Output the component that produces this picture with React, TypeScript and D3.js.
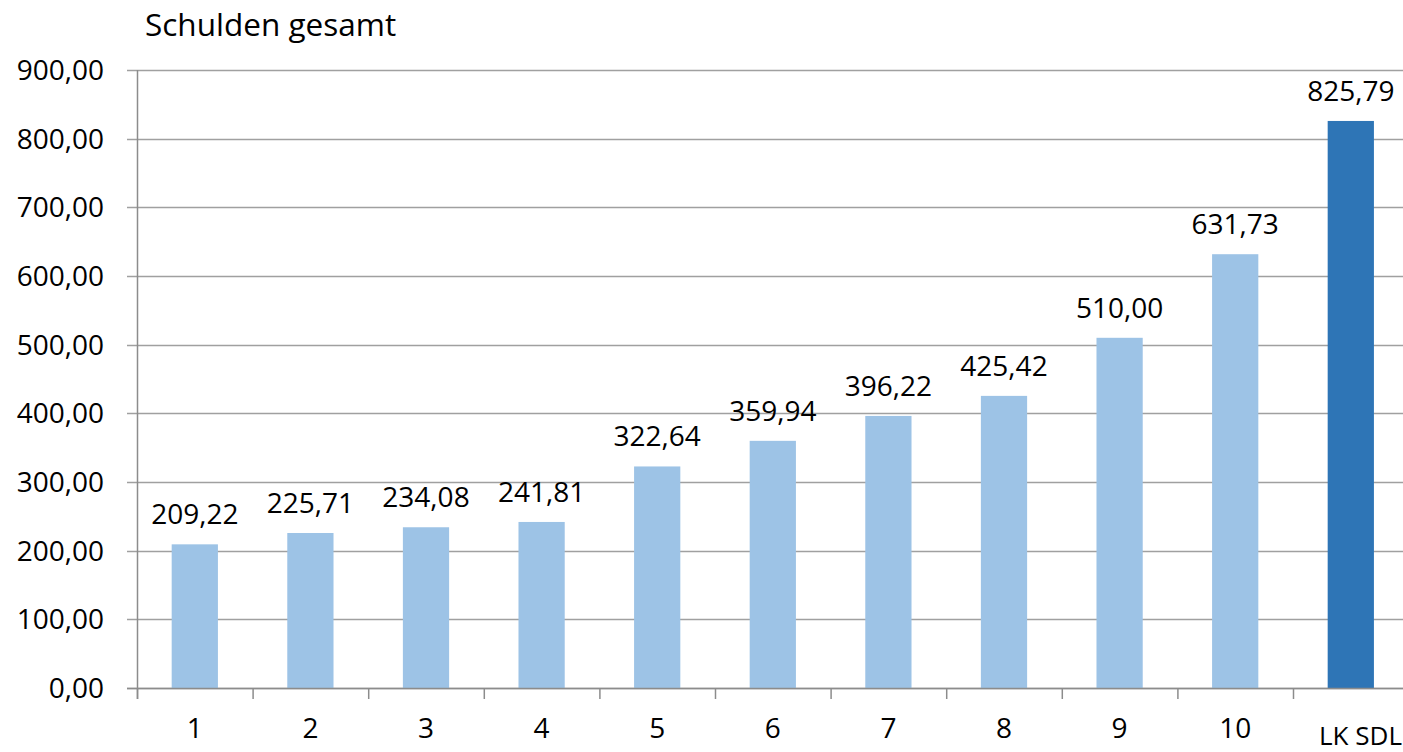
import React, { useEffect, useRef } from "react";
import * as d3 from "d3";

const categories = ["1", "2", "3", "4", "5", "6", "7", "8", "9", "10", "LK SDL"];
const debtTotal = [209.22, 225.71, 234.08, 241.81, 322.64, 359.94, 396.22, 425.42, 510.0, 631.73, 825.79];
const yTicks = [0, 100, 200, 300, 400, 500, 600, 700, 800, 900];
const chartTitle = "Schulden gesamt";

const W = 1403;
const H = 752;
const FONT = "'Open Sans', 'Noto Sans', sans-serif";

function App() {
  const ref = useRef<SVGSVGElement>(null);

  useEffect(() => {
    const svg = d3.select(ref.current);
    svg.selectAll("*").remove();

    const left = 137;
    const band = 115.6;
    const fmt = (v: number) => d3.format(".2f")(v).replace(".", ",");

    const x = d3
      .scaleBand()
      .domain(categories)
      .range([left, left + band * categories.length])
      .paddingInner(0.6)
      .paddingOuter(0.3);
    const y = d3.scaleLinear().domain([0, 900]).range([688, 70]);

    svg
      .append("text")
      .attr("x", 145)
      .attr("y", 36)
      .attr("font-family", FONT)
      .attr("font-size", 31.5)
      .attr("fill", "#000")
      .text(chartTitle);

    // gridlines + y ticks
    const gy = svg.append("g");
    gy.selectAll("line")
      .data(yTicks)
      .join("line")
      .attr("x1", 127)
      .attr("x2", W)
      .attr("y1", d => Math.round(y(d)) + 0.5)
      .attr("y2", d => Math.round(y(d)) + 0.5)
      .attr("stroke", "#a0a0a0")
      .attr("stroke-width", 1.5);
    gy.selectAll("text")
      .data(yTicks)
      .join("text")
      .attr("x", 104)
      .attr("y", d => y(d) + 10)
      .attr("text-anchor", "end")
      .attr("font-family", FONT)
      .attr("font-size", 28)
      .attr("fill", "#000")
      .text(d => fmt(d));

    // bars
    svg
      .append("g")
      .selectAll("rect")
      .data(debtTotal)
      .join("rect")
      .attr("x", (d, i) => x(categories[i])!)
      .attr("width", x.bandwidth())
      .attr("y", d => y(d))
      .attr("height", d => y(0) - y(d))
      .attr("fill", (d, i) => (i === categories.length - 1 ? "#2E75B6" : "#9DC3E6"));

    // data labels
    svg
      .append("g")
      .selectAll("text")
      .data(debtTotal)
      .join("text")
      .attr("x", (d, i) => x(categories[i])! + x.bandwidth() / 2)
      .attr("y", d => y(d) - 20)
      .attr("text-anchor", "middle")
      .attr("font-family", FONT)
      .attr("font-size", 28)
      .attr("fill", "#000")
      .text(d => fmt(d));

    // axis lines
    svg
      .append("line")
      .attr("x1", left + 0.5)
      .attr("x2", left + 0.5)
      .attr("y1", y(900))
      .attr("y2", 699)
      .attr("stroke", "#8c8c8c")
      .attr("stroke-width", 1.5);
    svg
      .append("line")
      .attr("x1", 127)
      .attr("x2", W)
      .attr("y1", Math.round(y(0)) + 0.5)
      .attr("y2", Math.round(y(0)) + 0.5)
      .attr("stroke", "#8c8c8c")
      .attr("stroke-width", 1.5);

    // x ticks between categories
    svg
      .append("g")
      .selectAll("line")
      .data(categories)
      .join("line")
      .attr("x1", (d, i) => left + 0.5 + i * band)
      .attr("x2", (d, i) => left + 0.5 + i * band)
      .attr("y1", 688)
      .attr("y2", 699)
      .attr("stroke", "#8c8c8c")
      .attr("stroke-width", 1.5);

    // x labels
    const last = categories.length - 1;
    svg
      .append("g")
      .selectAll("text")
      .data(categories)
      .join("text")
      .attr("x", (d, i) => (i === last ? W - 1 : x(d)! + x.bandwidth() / 2))
      .attr("y", (d, i) => (i === last ? 745 : 738))
      .attr("text-anchor", (d, i) => (i === last ? "end" : "middle"))
      .attr("font-family", FONT)
      .attr("font-size", (d, i) => (i === last ? 26 : 28))
      .attr("fill", "#000")
      .text(d => d);
  });

  return (
    <div style={{ position: "fixed", left: 0, top: 0, background: "#fff" }}>
      <svg ref={ref} width={W} height={H} style={{ display: "block" }} />
    </div>
  );
}

export default App;
